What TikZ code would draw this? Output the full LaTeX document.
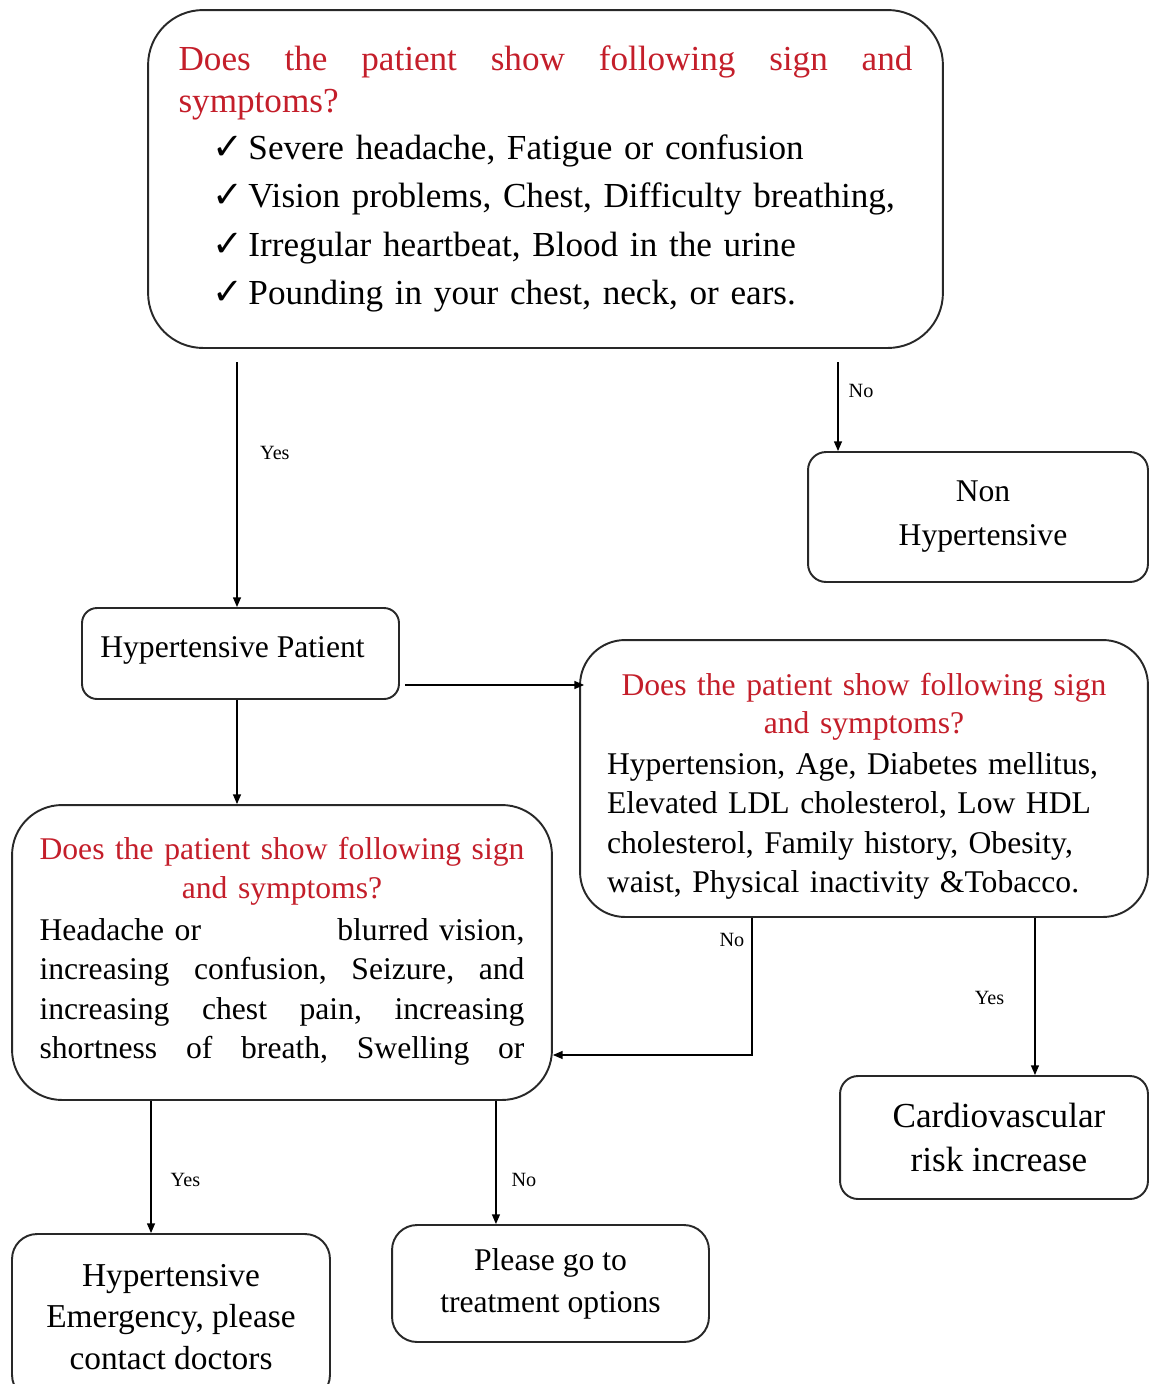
\documentclass[tikz,border=0pt]{standalone}
\usepackage{fontspec}
\setmainfont{Liberation Serif}
\newfontfamily\symf{DejaVu Sans}
\usetikzlibrary{arrows.meta,calc}
\definecolor{qred}{RGB}{196,30,42}
\definecolor{edge}{RGB}{40,40,40}

% line of a given width, words spread by \hfill
\newcommand{\jline}[2]{\makebox[#1][s]{#2}}
% left-aligned line of a given width
\newcommand{\lline}[2]{\makebox[#1][l]{#2}}
% checked item in the first question box
\newcommand{\chk}{\hspace*{0.68cm}{\symf\fontsize{21}{21}\selectfont ✓}\hspace{0.1cm}}

\begin{document}
\begin{tikzpicture}[x=0.02cm,y=-0.02cm,
  box/.style={draw=edge, line width=1.1pt, fill=white, inner sep=0pt, align=center},
  txt/.style={inner sep=0pt},
  arr/.style={draw=black, line width=0.8pt, -{Triangle[length=5.5pt,width=4.5pt]}},
  lbl/.style={font=\fontsize{11.5}{12}\selectfont, inner sep=0pt}]
\useasboundingbox (0,0) rectangle (1151,1384);
\clip (0,0) rectangle (1151,1384);

% first question
\node[box, rounded corners=1.1cm, minimum width=15.9cm, minimum height=6.76cm,
      align=left, text width=14.68cm, font=\fontsize{20}{23.8}\selectfont] (top) at (545.5,179)
  {{\color{qred}\jline{14.68cm}{Does\hfill the\hfill patient\hfill show\hfill following\hfill sign\hfill and}}\\
   {\color{qred}symptoms?}\\[2.8pt]
   \chk Severe headache, Fatigue or confusion\\[3.7pt]
   \chk Vision problems, Chest, Difficulty breathing,\\[3.7pt]
   \chk Irregular heartbeat, Blood in the urine\\[3.7pt]
   \chk Pounding in your chest, neck, or ears.};

% outcome: no symptoms
\node[box, rounded corners=0.36cm, minimum width=6.8cm, minimum height=2.6cm,
      font=\fontsize{18}{25}\selectfont] (nonhyp) at (978,517)
  {\hspace*{0.2cm}Non\\\hspace*{0.2cm}Hypertensive};

% hypertensive patient
\node[box, rounded corners=0.3cm, minimum width=6.34cm, minimum height=1.82cm,
      font=\fontsize{18}{22}\selectfont] (hp) at (240.5,653.5)
  {\raisebox{0.24cm}{\hspace*{-0.32cm}Hypertensive Patient}};

% cardiovascular risk question
\node[box, rounded corners=0.9cm, minimum width=11.36cm, minimum height=5.54cm] (rq) at (864,778.5) {};
\node[txt, align=center, text width=10.28cm, font=\fontsize{18}{22.4}\selectfont]
  (rqtext) at ([yshift=-0.16cm]rq.center)
  {{\color{qred}Does the patient show following sign}\\[-0.9pt]
   {\color{qred}and symptoms?}\\[0.8pt]
   \lline{10.28cm}{Hypertension, Age, Diabetes mellitus,}\\
   \lline{10.28cm}{Elevated LDL cholesterol, Low HDL}\\
   \lline{10.28cm}{cholesterol, Family history, Obesity,}\\
   \lline{10.28cm}{waist, Physical inactivity \&Tobacco.}};

% emergency question
\node[box, rounded corners=1.0cm, minimum width=10.8cm, minimum height=5.9cm] (lq) at (282,952.5) {};
\node[txt, align=center, text width=9.7cm, font=\fontsize{18}{22.4}\selectfont]
  (lqtext) at ([yshift=0.02cm]lq.center)
  {{\color{qred}Does the patient show following sign}\\[-0.3pt]
   {\color{qred}and symptoms?}\\[1.4pt]
   \jline{9.7cm}{Headache or\hfill blurred vision,}\\
   \jline{9.7cm}{increasing\hfill confusion,\hfill Seizure,\hfill and}\\
   \jline{9.7cm}{increasing\hfill chest\hfill pain,\hfill increasing}\\
   \jline{9.7cm}{shortness\hfill of\hfill breath,\hfill Swelling\hfill or}};

% cardiovascular outcome
\node[box, rounded corners=0.36cm, minimum width=6.16cm, minimum height=2.46cm,
      font=\fontsize{20}{25}\selectfont] (cv) at (994,1137.5)
  {\hspace*{0.2cm}Cardiovascular\\\hspace*{0.2cm}risk increase};

% emergency outcome
\node[box, rounded corners=0.5cm, minimum width=6.36cm, minimum height=3.32cm,
      font=\fontsize{19}{23.8}\selectfont] (em) at (171,1317)
  {Hypertensive\\Emergency, please\\contact doctors};

% treatment outcome
\node[box, rounded corners=0.5cm, minimum width=6.34cm, minimum height=2.34cm,
      font=\fontsize{18}{23.8}\selectfont] (tr) at (550.5,1283.5)
  {Please go to\\treatment options};

% connectors
\coordinate (yesA) at (237,362);
\coordinate (noA) at (838,362);
\draw[arr] (yesA) -- (yesA |- hp.north)
  node[lbl, pos=0.37, right=0.45cm] (lyes1) {Yes};
\draw[arr] (noA) -- (noA |- nonhyp.north)
  node[lbl, pos=0.33, right=0.2cm] (lno1) {No};

\draw[arr] ([xshift=-0.07cm]hp.south) -- ([xshift=-0.07cm]hp.south |- lq.north);
\draw[arr] ([xshift=0.1cm,yshift=-0.63cm]hp.east) -- ([xshift=0.1cm,yshift=-0.63cm]hp.east -| rq.west);

\coordinate (noB) at ([xshift=-2.24cm]rq.south);
\draw[arr] (noB) |- ([yshift=-2.05cm]lq.east)
  node[lbl, pos=0.08, left=0.14cm] (lno2) {No};
\coordinate (yesB) at ([xshift=3.42cm]rq.south);
\draw[arr] (yesB) -- (yesB |- cv.north)
  node[lbl, pos=0.51, left=0.6cm] (lyes2) {Yes};

\coordinate (yesC) at ([xshift=-2.62cm]lq.south);
\draw[arr] (yesC) -- (yesC |- em.north)
  node[lbl, pos=0.6, right=0.38cm] (lyes3) {Yes};
\coordinate (noC) at ([xshift=4.28cm]lq.south);
\draw[arr] (noC) -- (noC |- tr.north)
  node[lbl, pos=0.64, right=0.3cm] (lno3) {No};
\end{tikzpicture}
\end{document}
